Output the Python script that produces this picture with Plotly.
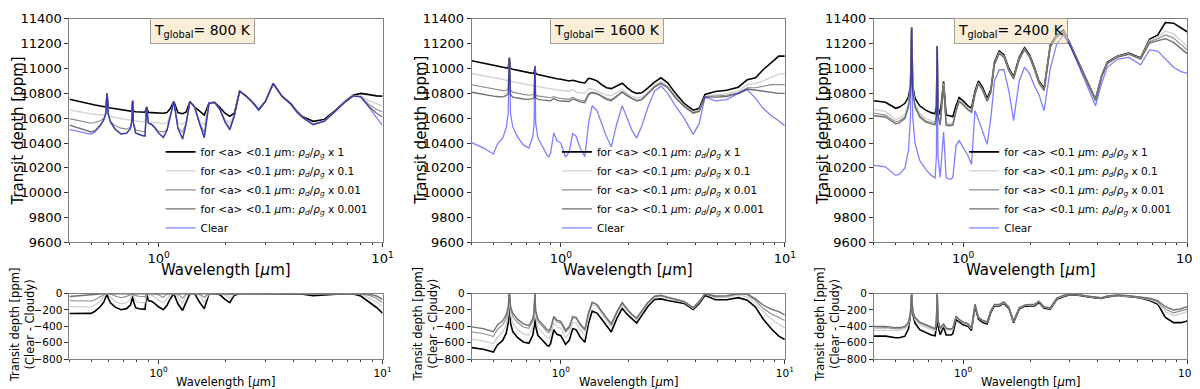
import plotly.graph_objects as go
from plotly.subplots import make_subplots

# wavelength grid [micron], shared by all panels
wl = [0.40, 0.45, 0.50, 0.52, 0.55, 0.57, 0.582, 0.589, 0.596, 0.61,
      0.64, 0.68, 0.72, 0.75, 0.76, 0.766, 0.772, 0.79, 0.818, 0.84,
      0.87, 0.885, 0.90, 0.93, 0.96, 1.00, 1.05, 1.09, 1.13, 1.17,
      1.22, 1.28, 1.33, 1.38, 1.45, 1.52, 1.60, 1.68, 1.78, 1.88,
      1.98, 2.08, 2.18, 2.30, 2.45, 2.62, 2.80, 3.00, 3.25, 3.55,
      3.90, 4.15, 4.40, 4.90, 5.50, 6.20, 6.80, 7.40, 8.00, 8.70,
      9.40, 10.0]

# T = 800 K
clear_800 = [10510, 10488, 10470, 10490, 10540, 10590, 10640, 10797, 10630, 10570,
             10510, 10470, 10478, 10520, 10580, 10740, 10560, 10480, 10465, 10460,
             10455, 10690, 10560, 10550, 10525, 10480, 10442, 10500, 10620, 10734,
             10520, 10430, 10560, 10734, 10688, 10560, 10440, 10720, 10727, 10670,
             10570, 10505, 10620, 10817, 10780, 10730, 10665, 10735, 10880, 10778,
             10712, 10650, 10605, 10548, 10575, 10660, 10730, 10780, 10770, 10688,
             10610, 10540]
x1_800 = [10753, 10730, 10712, 10706, 10698, 10692, 10690, 10800, 10686, 10682,
          10676, 10668, 10662, 10658, 10656, 10740, 10655, 10652, 10650, 10649,
          10648, 10690, 10646, 10645, 10644, 10641, 10640, 10645, 10680, 10735,
          10645, 10636, 10650, 10735, 10690, 10660, 10625, 10722, 10728, 10685,
          10640, 10615, 10640, 10818, 10782, 10733, 10670, 10737, 10880, 10780,
          10715, 10655, 10612, 10575, 10590, 10668, 10735, 10785, 10800, 10790,
          10780, 10778]
x01_800 = [10667, 10648, 10635, 10632, 10628, 10625, 10650, 10797, 10640, 10615,
           10605, 10595, 10588, 10585, 10595, 10740, 10590, 10578, 10573, 10570,
           10567, 10690, 10570, 10568, 10565, 10560, 10556, 10560, 10630, 10734,
           10560, 10550, 10580, 10734, 10688, 10580, 10548, 10720, 10727, 10672,
           10590, 10560, 10625, 10817, 10780, 10731, 10666, 10735, 10880, 10778,
           10712, 10651, 10607, 10556, 10580, 10662, 10732, 10780, 10780, 10740,
           10715, 10700]
x001_800 = [10597, 10575, 10560, 10565, 10580, 10600, 10640, 10797, 10630, 10575,
            10540, 10520, 10512, 10530, 10580, 10740, 10565, 10505, 10498, 10495,
            10492, 10690, 10560, 10552, 10530, 10495, 10490, 10505, 10622, 10734,
            10525, 10488, 10565, 10734, 10688, 10565, 10485, 10720, 10727, 10670,
            10575, 10520, 10622, 10817, 10780, 10730, 10665, 10735, 10880, 10778,
            10712, 10650, 10606, 10550, 10577, 10661, 10731, 10780, 10775, 10710,
            10670, 10650]
x0001_800 = [10545, 10515, 10490, 10500, 10545, 10590, 10640, 10797, 10630, 10570,
             10512, 10475, 10480, 10520, 10580, 10740, 10560, 10482, 10468, 10463,
             10458, 10690, 10561, 10550, 10526, 10482, 10447, 10502, 10620, 10734,
             10521, 10435, 10561, 10734, 10688, 10561, 10445, 10720, 10727, 10670,
             10571, 10508, 10620, 10817, 10780, 10730, 10665, 10735, 10880, 10778,
             10712, 10650, 10605, 10549, 10576, 10660, 10730, 10780, 10772, 10695,
             10640, 10610]

# T = 1600 K
clear_1600 = [10403, 10362, 10312, 10390, 10440, 10520, 10640, 11089, 10640, 10530,
              10450, 10385, 10360, 10455, 10560, 11024, 10560, 10440, 10390, 10350,
              10300, 10290, 10320, 10481, 10420, 10400, 10286, 10330, 10475, 10455,
              10360, 10290, 10560, 10700, 10662, 10560, 10450, 10370, 10560, 10700,
              10590, 10500, 10440, 10540, 10690, 10817, 10860, 10800, 10700, 10600,
              10470, 10560, 10770, 10740, 10750, 10800, 10830, 10760, 10680, 10620,
              10580, 10540]
x1_1600 = [11063, 11042, 11026, 11020, 11012, 11006, 11002, 11085, 10999, 10994,
           10985, 10975, 10967, 10962, 10960, 11015, 10958, 10952, 10945, 10940,
           10934, 10931, 10928, 10922, 10918, 10914, 10906, 10900, 10905, 10896,
           10890, 10884, 10921, 10915, 10900, 10870, 10845, 10838, 10860, 10882,
           10845, 10815, 10800, 10805, 10845, 10890, 10925, 10885, 10800, 10720,
           10665, 10680, 10792, 10815, 10825, 10850, 10910, 10925, 10990, 11050,
           11100, 11100]
x01_1600 = [10960, 10940, 10925, 10920, 10912, 10905, 10900, 11085, 10898, 10894,
            10885, 10876, 10868, 10862, 10860, 11015, 10858, 10855, 10849, 10845,
            10840, 10838, 10836, 10832, 10828, 10825, 10820, 10815, 10830, 10810,
            10805, 10800, 10840, 10835, 10820, 10800, 10785, 10780, 10810, 10835,
            10800, 10775, 10765, 10770, 10810, 10865, 10895, 10860, 10780, 10705,
            10650, 10665, 10775, 10790, 10795, 10820, 10870, 10880, 10900, 10930,
            10955, 10960]
x001_1600 = [10869, 10850, 10835, 10830, 10822, 10825, 10835, 11085, 10825, 10810,
             10800, 10792, 10785, 10785, 10790, 11015, 10785, 10780, 10775, 10771,
             10768, 10766, 10765, 10775, 10765, 10760, 10755, 10752, 10770, 10755,
             10745, 10740, 10800, 10810, 10800, 10780, 10760, 10750, 10785, 10815,
             10785, 10760, 10745, 10755, 10800, 10855, 10885, 10850, 10770, 10700,
             10645, 10660, 10775, 10780, 10785, 10805, 10845, 10845, 10860, 10870,
             10870, 10870]
x0001_1600 = [10809, 10790, 10778, 10775, 10772, 10782, 10800, 11085, 10790, 10770,
              10762, 10755, 10752, 10758, 10768, 11015, 10765, 10752, 10748, 10745,
              10742, 10740, 10740, 10760, 10745, 10738, 10733, 10735, 10755, 10745,
              10732, 10725, 10790, 10805, 10795, 10775, 10750, 10740, 10780, 10810,
              10780, 10755, 10738, 10750, 10795, 10850, 10880, 10845, 10765, 10695,
              10640, 10655, 10772, 10770, 10775, 10800, 10835, 10825, 10820, 10810,
              10800, 10800]

# T = 2400 K
clear_2400 = [10220, 10209, 10140, 10150, 10200, 10340, 10600, 11322, 10600, 10400,
              10260, 10190, 10140, 10120, 10300, 11180, 10300, 10125, 10490, 10120,
              10110, 10110, 10125, 10380, 10420, 10360, 10300, 10230, 10662, 10590,
              10500, 10390, 10600, 10900, 10990, 10990, 10820, 10580, 10900, 11011,
              10960, 10860, 10790, 10660, 10999, 11200, 11270, 11185, 11040, 10870,
              10700, 10880, 11010, 11076, 11089, 11030, 11150, 11140, 11080, 11010,
              10975, 10960]
x1_2400 = [10740, 10728, 10680, 10690, 10720, 10770, 10860, 11335, 10850, 10760,
           10700, 10665, 10645, 10636, 10700, 11180, 10690, 10628, 10895, 10625,
           10620, 10615, 10612, 10700, 10766, 10740, 10700, 10680, 10817, 10900,
           10850, 10760, 10830, 11050, 11141, 11110, 11000, 10935, 11090, 11167,
           11110, 11010, 10900, 10840, 11190, 11270, 11309, 11200, 11060, 10910,
           10753, 10940, 11050, 11100, 11125, 11085, 11235, 11270, 11370, 11365,
           11330, 11296]
x01_2400 = [10670, 10655, 10590, 10600, 10630, 10720, 10850, 11330, 10840, 10720,
            10640, 10600, 10580, 10570, 10650, 11180, 10640, 10565, 10880, 10562,
            10558, 10556, 10560, 10665, 10745, 10720, 10680, 10660, 10800, 10885,
            10835, 10745, 10815, 11040, 11130, 11100, 10990, 10925, 11080, 11158,
            11100, 11000, 10890, 10830, 11180, 11262, 11300, 11195, 11055, 10905,
            10748, 10935, 11045, 11097, 11120, 11080, 11225, 11255, 11300, 11280,
            11220, 11180]
x001_2400 = [10640, 10625, 10570, 10580, 10610, 10700, 10840, 11328, 10830, 10700,
             10620, 10580, 10565, 10558, 10640, 11180, 10630, 10552, 10870, 10550,
             10548, 10546, 10550, 10660, 10740, 10712, 10672, 10652, 10795, 10880,
             10830, 10740, 10810, 11035, 11125, 11095, 10985, 10920, 11075, 11155,
             11095, 10995, 10885, 10825, 11175, 11258, 11296, 11192, 11052, 10902,
             10745, 10932, 11042, 11095, 11117, 11077, 11215, 11240, 11270, 11245,
             11190, 11150]
x0001_2400 = [10620, 10610, 10555, 10565, 10600, 10690, 10830, 11325, 10820, 10690,
              10610, 10570, 10555, 10548, 10630, 11180, 10620, 10545, 10860, 10542,
              10540, 10540, 10545, 10655, 10735, 10708, 10668, 10648, 10790, 10878,
              10826, 10736, 10806, 11032, 11122, 11092, 10982, 10916, 11072, 11152,
              11092, 10992, 10882, 10822, 11172, 11255, 11293, 11190, 11050, 10900,
              10742, 10930, 11040, 11093, 11115, 11075, 11205, 11225, 11240, 11210,
              11160, 11120]

temps = ["800", "1600", "2400"]
clear = [clear_800, clear_1600, clear_2400]
cloudy = [[x1_800, x01_800, x001_800, x0001_800],
          [x1_1600, x01_1600, x001_1600, x0001_1600],
          [x1_2400, x01_2400, x001_2400, x0001_2400]]
factors = ["1", "0.1", "0.01", "0.001"]
colors = ["#000000", "#d0d0d0", "#8c8c8c", "#707070"]
widths = [1.6, 1.3, 1.1, 1.4]
clear_color = "rgba(0,0,255,0.5)"

FONT = "DejaVu Sans"
W, H = 1200, 389

# panel positions in pixels
x_px = [(62, 378), (468, 784), (874, 1190)]
top_px = (5, 237)
bot_px = (290, 358)


def xd(p):
    return [p[0] / W, p[1] / W]


def yd(p):
    return [1 - p[1] / H, 1 - p[0] / H]


fig = make_subplots(rows=2, cols=3)

for c in range(3):
    leg = "legend" if c == 0 else "legend%d" % (c + 1)
    for k in range(4):
        name = ("for &lt;a&gt; &lt;0.1 <i>μ</i>m: <i>ρ<sub>d</sub></i>/<i>ρ<sub>g</sub></i> x "
                + factors[k])
        fig.add_trace(go.Scatter(x=wl, y=cloudy[c][k], mode="lines", name=name,
                                 line=dict(color=colors[k], width=widths[k]),
                                 legend=leg), row=1, col=c + 1)
    fig.add_trace(go.Scatter(x=wl, y=clear[c], mode="lines", name="Clear",
                             line=dict(color=clear_color, width=1.3),
                             legend=leg), row=1, col=c + 1)
    # bottom: clear - cloudy
    for k in range(4):
        diff = [a - b for a, b in zip(clear[c], cloudy[c][k])]
        fig.add_trace(go.Scatter(x=wl, y=diff, mode="lines", showlegend=False,
                                 line=dict(color=colors[k], width=widths[k])),
                      row=2, col=c + 1)

minor_vals = [0.4, 0.5, 0.6, 0.7, 0.8, 0.9, 2, 3, 4, 5, 6, 7, 8, 9]
axis_line = "#808080"

for c in range(3):
    for r, (ypx, tfs) in enumerate([(top_px, 13), (bot_px, 10.5)]):
        n = r * 3 + c + 1
        xa = "xaxis" if n == 1 else "xaxis%d" % n
        ya = "yaxis" if n == 1 else "yaxis%d" % n
        fig.layout[xa].update(
            type="log", range=[-0.39794, 1], domain=xd(x_px[c]),
            tickvals=[1, 10], ticktext=["10<sup>0</sup>", "10<sup>1</sup>"],
            ticks="outside", ticklen=4, tickcolor="#333333",
            minor=dict(tickmode="array", tickvals=minor_vals, ticks="outside",
                       ticklen=2, tickcolor="#333333"),
            showline=True, mirror=True, linecolor=axis_line, linewidth=1,
            showgrid=False, zeroline=False,
            tickfont=dict(family=FONT, size=tfs, color="#000000"))
        if r == 0:
            fig.layout[ya].update(
                range=[9600, 11400], dtick=200, tick0=9600, tickformat="d",
                domain=yd(ypx))
        else:
            fig.layout[ya].update(
                range=[-800, 0], tickvals=[-800, -600, -400, -200, 0],
                ticktext=["−800", "−600", "−400", "−200", "0"],
                domain=yd(ypx))
        fig.layout[ya].update(
            ticks="outside", ticklen=4, tickcolor="#333333",
            showline=True, mirror=True, linecolor=axis_line, linewidth=1,
            showgrid=False, zeroline=False,
            tickfont=dict(family=FONT, size=tfs, color="#000000"))

annotations = []
box_cx = [196, 605, 1012]
leg_x = [154, 554, 965]
for c in range(3):
    x0, x1 = x_px[c]
    cx = (x0 + x1) / 2
    annotations.append(dict(
        text="Transit depth [ppm]", x=(x0 - 52) / W, y=1 - 121 / H,
        xref="paper", yref="paper", showarrow=False, textangle=-90,
        xanchor="center", yanchor="middle",
        font=dict(family=FONT, size=15, color="#000000")))
    annotations.append(dict(
        text="Wavelength [<i>μ</i>m]", x=cx / W, y=1 - 266 / H,
        xref="paper", yref="paper", showarrow=False,
        xanchor="center", yanchor="middle",
        font=dict(family=FONT, size=15, color="#000000")))
    annotations.append(dict(
        text="Transit depth [ppm]<br>(Clear - Cloudy)", x=(x0 - 47) / W, y=1 - 322 / H,
        xref="paper", yref="paper", showarrow=False, textangle=-90,
        xanchor="center", yanchor="middle",
        font=dict(family=FONT, size=11.5, color="#000000")))
    annotations.append(dict(
        text="Wavelength [<i>μ</i>m]", x=cx / W, y=1 - 382 / H,
        xref="paper", yref="paper", showarrow=False,
        xanchor="center", yanchor="middle",
        font=dict(family=FONT, size=11.5, color="#000000")))
    annotations.append(dict(
        text="T<sub>global</sub>= %s K" % temps[c], x=box_cx[c] / W, y=1 - 18 / H,
        xref="paper", yref="paper", showarrow=False,
        xanchor="center", yanchor="middle",
        bgcolor="rgba(245,222,179,0.5)", bordercolor="#a0a0a0", borderwidth=1,
        borderpad=3, font=dict(family=FONT, size=14, color="#000000")))

legend_style = dict(font=dict(family=FONT, size=10.5, color="#000000"),
                    bgcolor="rgba(0,0,0,0)", borderwidth=0,
                    xanchor="left", yanchor="top", y=1 - 128 / H,
                    tracegroupgap=0)

fig.update_layout(
    width=W, height=H,
    margin=dict(l=0, r=0, t=0, b=0),
    paper_bgcolor="white", plot_bgcolor="white",
    font=dict(family=FONT, color="#000000"),
    annotations=annotations,
    legend=dict(x=leg_x[0] / W, **legend_style),
    legend2=dict(x=leg_x[1] / W, **legend_style),
    legend3=dict(x=leg_x[2] / W, **legend_style),
)

fig.write_html("out.html")
